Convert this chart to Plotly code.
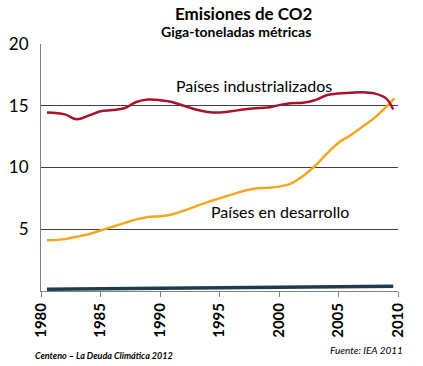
import plotly.graph_objects as go

ind_years = [1980.5, 1982, 1983, 1984, 1985, 1986, 1987, 1988, 1989, 1990, 1991, 1992, 1993, 1994, 1995,
             1996, 1997, 1998, 1999, 2000, 2001, 2002, 2003, 2004, 2005, 2006, 2007, 2008, 2009, 2009.6]
ind_values = [14.45, 14.3, 13.9, 14.2, 14.55, 14.65, 14.8, 15.3, 15.5, 15.45, 15.3, 15.0, 14.7, 14.5, 14.45,
              14.55, 14.7, 14.8, 14.85, 15.05, 15.2, 15.25, 15.45, 15.85, 16.0, 16.05, 16.1, 16.0, 15.6, 14.7]

dev_years = [1980.5, 1982, 1983, 1984, 1985, 1986, 1987, 1988, 1989, 1990, 1991, 1992, 1993, 1994, 1995,
             1996, 1997, 1998, 1999, 2000, 2001, 2002, 2003, 2004, 2005, 2006, 2007, 2008, 2009, 2009.7]
dev_values = [4.1, 4.2, 4.4, 4.6, 4.9, 5.2, 5.5, 5.8, 6.0, 6.05, 6.2, 6.5, 6.85, 7.2, 7.5,
              7.8, 8.1, 8.3, 8.35, 8.45, 8.7, 9.3, 10.1, 11.1, 12.0, 12.6, 13.3, 14.0, 14.9, 15.6]

other_years = [1980.5, 1990, 2000, 2009.6]
other_values = [0.15, 0.22, 0.3, 0.38]

x_ticks = [1980, 1985, 1990, 1995, 2000, 2005, 2010]
y_ticks = [5, 10, 15, 20]

FONT = "Lato"

fig = go.Figure()
fig.add_trace(go.Scatter(x=other_years, y=other_values, mode="lines",
                         line=dict(color="#1e3d4c", width=3.5, shape="spline"), showlegend=False))
fig.add_trace(go.Scatter(x=dev_years, y=dev_values, mode="lines",
                         line=dict(color="#f4a623", width=2.5, shape="spline"), showlegend=False))
fig.add_trace(go.Scatter(x=ind_years, y=ind_values, mode="lines",
                         line=dict(color="#a8122f", width=2.5, shape="spline"), showlegend=False))

fig.update_layout(
    width=423, height=366,
    margin=dict(l=41, r=25, t=44, b=75),
    paper_bgcolor="white", plot_bgcolor="white",
    font=dict(family=FONT, color="black"),
    xaxis=dict(range=[1980, 2010], tickvals=x_ticks, ticktext=[str(v) for v in x_ticks],
               tickangle=-90, tickfont=dict(size=15, family=FONT, color="black", weight="bold"),
               showgrid=False, showline=True, linecolor="#808080", linewidth=1,
               ticks="outside", ticklen=5, tickcolor="#808080", zeroline=False, automargin=False),
    yaxis=dict(range=[0, 20], tickvals=y_ticks, tickfont=dict(size=17, family=FONT, color="black"),
               showgrid=True, gridcolor="#404040", gridwidth=1,
               showline=True, linecolor="#808080", linewidth=1, ticks="", zeroline=False,
               ticklabelstandoff=8, automargin=False),
    annotations=[
        dict(text="<b>Emisiones de CO2</b>", x=244, y=13, showarrow=False,
             xanchor="center", font=dict(size=17, family=FONT)),
        dict(text="<b>Giga-toneladas métricas</b>", x=236, y=32, showarrow=False,
             xanchor="center", font=dict(size=14, family=FONT)),
        dict(text="Países industrializados", x=1991.2, y=16.6, xref="x", yref="y", showarrow=False,
             xanchor="left", yanchor="middle", font=dict(size=16, family=FONT)),
        dict(text="Países en desarrollo", x=1994.1, y=6.4, xref="x", yref="y", showarrow=False,
             xanchor="left", yanchor="middle", font=dict(size=16, family=FONT)),
        dict(text="<b><i>Centeno – La Deuda Climática 2012</i></b>", x=33, y=355, showarrow=False,
             xanchor="left", font=dict(size=9, family=FONT)),
        dict(text="<i>Fuente: IEA 2011</i>", x=405, y=350, showarrow=False,
             xanchor="right", font=dict(size=10, family=FONT)),
    ],
)

# convert pixel-positioned annotations to paper coords
pw, ph = 423 - 41 - 25, 366 - 44 - 75
for a in fig.layout.annotations:
    if a.xref != "x":
        px, py = a.x, a.y
        a.xref = "paper"; a.yref = "paper"
        a.x = (px - 41) / pw
        a.y = (366 - 75 - py) / ph
        a.yanchor = "middle"

fig.write_html("out.html", config={"displayModeBar": False},
               post_script="document.body.style.margin='0';")
